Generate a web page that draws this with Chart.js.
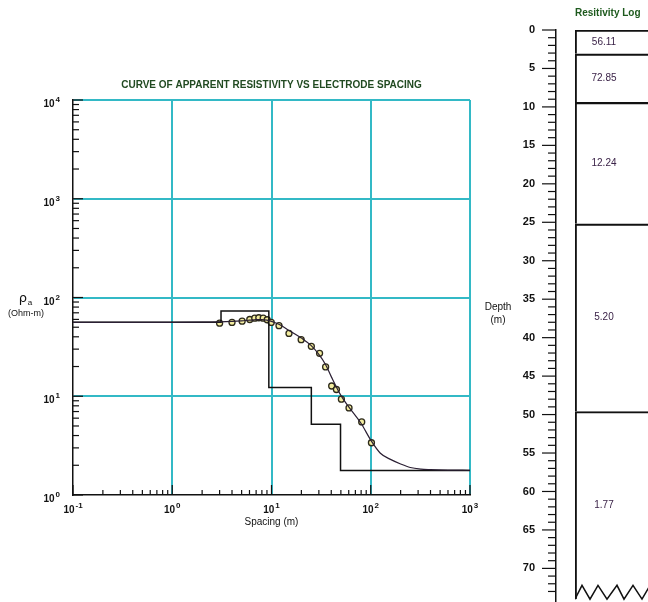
<!DOCTYPE html>
<html>
<head>
<meta charset="utf-8">
<script src="https://cdn.jsdelivr.net/npm/chart.js@4"></script>
<style>
  body { margin: 0; width: 648px; height: 602px; overflow: hidden; background: #fff; position: relative; }
  #curveChart { position: absolute; left: 0; top: 0; }
  #logChart { position: absolute; left: 480px; top: 0; }
</style>
</head>
<body>
<canvas id="curveChart" width="480" height="602"></canvas>
<canvas id="logChart" width="220" height="610"></canvas>
<script>
// axis decades and tick labels (10 raised to these powers)
const xDecades = [0.1, 1, 10, 100, 1000];
const xTickExp = ['-1', '0', '1', '2', '3'];
const yDecades = [1, 10, 100, 1000, 10000];
const yTickExp = ['0', '1', '2', '3', '4'];

// observed apparent resistivity
const obsSpacing = [3.0, 4.0, 5.06, 6.04, 6.78, 7.45, 8.25, 9.05, 9.94, 11.9, 15.0, 19.9, 25.2, 30.5, 35.1, 40.4, 45.1, 50.6, 60.4, 81.1, 101.6];
const obsRho = [55.0, 55.9, 57.6, 59.9, 61.8, 62.4, 61.8, 59.5, 55.9, 51.8, 43.3, 37.4, 32.0, 27.2, 19.8, 12.7, 11.7, 9.33, 7.62, 5.50, 3.38];

// calculated curve
const curveSpacing = [0.1, 1, 2, 3, 4, 5, 6, 7, 8, 9, 10, 12, 15, 20, 25, 30, 35, 40, 50, 60, 80, 100, 125, 160, 200, 250, 320, 400, 600, 1000];
const curveRho = [56.1, 56.1, 56.3, 56.6, 57.2, 58.0, 58.9, 59.6, 59.8, 59.0, 57.3, 53.2, 46.4, 38.8, 32.7, 26.5, 21.0, 15.8, 10.2, 7.8, 5.3, 3.6, 2.65, 2.28, 2.06, 1.9, 1.83, 1.81, 1.79, 1.78];

// layered model
const layerRho = [56.11, 72.85, 12.24, 5.20, 1.77];
const layerBottom = [3.1, 9.4, 25.2, 49.6, 74];
const depthTickLabels = ['0', '5', '10', '15', '20', '25', '30', '35', '40', '45', '50', '55', '60', '65', '70'];

// break symbol at the bottom of the log
const zigzagX = [0, 7, 15, 23, 32, 42, 49, 58, 67, 75, 84, 92, 100, 109, 117, 125];
const zigzagDepth = [74, 72.2, 74, 72.2, 74, 72.2, 74, 72.2, 74, 72.2, 74, 72.2, 74, 72.2, 74, 72.2];

const CYAN = '#33b9c6';
const INK = '#111';
const SANS = '"Liberation Sans", Arial, sans-serif';

function logTicks(decades) {
    const out = [];
    decades.forEach((d, i) => {
        if (i === decades.length - 1) { out.push(d); return; }
        for (let m = 1; m < 10; m++) out.push(+(m * d).toPrecision(6));
    });
    return out;
}
function decadeIndex(decades, v) {
    return decades.findIndex(d => Math.abs(d - v) / d < 1e-6);
}

// short tick marks drawn against the axis line
const axisTicks = {
    id: 'axisTicks',
    afterDraw(chart, args, opts) {
        const ctx = chart.ctx;
        (opts.list || []).forEach(t => {
            const s = chart.scales[t.id];
            ctx.save();
            ctx.strokeStyle = INK;
            ctx.lineWidth = 1.2;
            s.ticks.forEach(tick => {
                if (tick.value < s.min || tick.value > s.max) return;
                const p = s.getPixelForValue(tick.value);
                const len = t.isMajor(tick.value) ? t.major : t.minor;
                ctx.beginPath();
                if (s.isHorizontal()) {
                    ctx.moveTo(p, s.top);
                    ctx.lineTo(p, s.top + t.dir * len);
                } else {
                    ctx.moveTo(s.right, p);
                    ctx.lineTo(s.right + t.dir * len, p);
                }
                ctx.stroke();
            });
            ctx.restore();
        });
    }
};

// "10" with a raised exponent at each decade
const powerLabels = {
    id: 'powerLabels',
    afterDraw(chart, args, opts) {
        const ctx = chart.ctx;
        (opts.list || []).forEach(t => {
            const s = chart.scales[t.id];
            t.decades.forEach((d, i) => {
                const p = s.getPixelForValue(d);
                ctx.save();
                ctx.fillStyle = INK;
                ctx.textBaseline = 'alphabetic';
                ctx.textAlign = 'left';
                ctx.font = 'bold 10px ' + SANS;
                const wb = ctx.measureText('10').width;
                ctx.font = 'bold 8px ' + SANS;
                const we = ctx.measureText(t.exps[i]).width;
                let x0, yb;
                if (s.isHorizontal()) {
                    x0 = p - (wb + we + 1) / 2;
                    yb = s.top + 18;
                } else {
                    x0 = s.right - 13 - (wb + we + 1);
                    yb = p + 7;
                }
                ctx.font = 'bold 10px ' + SANS;
                ctx.fillText('10', x0, yb);
                ctx.font = 'bold 8px ' + SANS;
                ctx.fillText(t.exps[i], x0 + wb + 1, yb - 5);
                ctx.restore();
            });
        });
    }
};

// free text (axis names that are not rotated)
const notes = {
    id: 'notes',
    afterDraw(chart, args, opts) {
        const ctx = chart.ctx;
        (opts.items || []).forEach(n => {
            ctx.save();
            ctx.font = n.font;
            ctx.fillStyle = n.color || INK;
            ctx.textAlign = n.align || 'center';
            ctx.textBaseline = 'middle';
            ctx.fillText(n.text, n.x, n.y);
            ctx.restore();
        });
    }
};

// resistivity values inside each layer
const layerValues = {
    id: 'layerValues',
    afterDatasetsDraw(chart) {
        const ctx = chart.ctx;
        ctx.save();
        ctx.font = '10px ' + SANS;
        ctx.fillStyle = '#3b2348';
        ctx.textAlign = 'center';
        ctx.textBaseline = 'middle';
        layerRho.forEach((r, i) => {
            const el = chart.getDatasetMeta(i).data[0];
            ctx.fillText(r.toFixed(2), chart.chartArea.left + 29, (el.y + el.base) / 2);
        });
        ctx.restore();
    }
};

document.addEventListener('DOMContentLoaded', function() {
    // Curve of apparent resistivity
    const stepPoints = [{ x: xDecades[0], y: layerRho[0] }];
    layerBottom.slice(0, 4).forEach((d, i) => stepPoints.push({ x: d, y: layerRho[i + 1] }));
    stepPoints.push({ x: xDecades[xDecades.length - 1], y: layerRho[4] });

    new Chart(document.getElementById('curveChart'), {
        type: 'line',
        data: {
            datasets: [{
                label: 'Calculated',
                data: curveSpacing.map((x, i) => ({ x: x, y: curveRho[i] })),
                borderColor: '#2a1f33',
                borderWidth: 1.2,
                pointRadius: 0,
                cubicInterpolationMode: 'monotone'
            }, {
                label: 'Model',
                data: stepPoints,
                borderColor: INK,
                borderWidth: 1.5,
                pointRadius: 0,
                stepped: 'before'
            }, {
                label: 'Observed',
                data: obsSpacing.map((x, i) => ({ x: x, y: obsRho[i] })),
                showLine: false,
                pointRadius: 3,
                pointBorderWidth: 1.3,
                pointBorderColor: '#2d2a1a',
                pointBackgroundColor: '#f3eda0'
            }]
        },
        options: {
            animation: false,
            responsive: false,
            layout: { padding: { left: 0, right: 10, top: 0, bottom: 72 } },
            plugins: {
                legend: { display: false },
                tooltip: { enabled: false },
                title: {
                    display: true,
                    fullSize: false,
                    text: 'CURVE OF APPARENT RESISTIVITY VS ELECTRODE SPACING',
                    color: '#214a21',
                    font: { family: SANS, size: 10, weight: 'bold' },
                    padding: { top: 79, bottom: 9 }
                },
                axisTicks: {
                    list: [
                        { id: 'x', dir: -1, major: 10, minor: 5, isMajor: v => decadeIndex(xDecades, v) >= 0 },
                        { id: 'y', dir: 1, major: 10, minor: 6, isMajor: v => decadeIndex(yDecades, v) >= 0 }
                    ]
                },
                powerLabels: {
                    list: [
                        { id: 'x', decades: xDecades, exps: xTickExp },
                        { id: 'y', decades: yDecades, exps: yTickExp }
                    ]
                },
                notes: {
                    items: [
                        { text: 'ρ', x: 23, y: 299, font: '13px "DejaVu Sans", sans-serif' },
                        { text: 'a', x: 30, y: 303, font: '8px ' + SANS },
                        { text: '(Ohm-m)', x: 26, y: 314, font: '9px ' + SANS }
                    ]
                }
            },
            scales: {
                x: {
                    type: 'logarithmic',
                    min: xDecades[0],
                    max: xDecades[xDecades.length - 1],
                    afterBuildTicks: s => { s.ticks = logTicks(xDecades).map(v => ({ value: v })); },
                    afterFit: s => { s.height = 35; s.paddingLeft = 0; s.paddingRight = 0; },
                    ticks: { display: false },
                    grid: {
                        drawTicks: false,
                        lineWidth: 2,
                        color: c => (c.tick && decadeIndex(xDecades, c.tick.value) > 0) ? CYAN : 'rgba(0,0,0,0)'
                    },
                    border: { color: INK, width: 1.5 },
                    title: {
                        display: true,
                        text: 'Spacing (m)',
                        color: INK,
                        font: { family: SANS, size: 10 },
                        padding: { top: 0, bottom: 2 }
                    }
                },
                y: {
                    type: 'logarithmic',
                    min: yDecades[0],
                    max: yDecades[yDecades.length - 1],
                    afterBuildTicks: s => { s.ticks = logTicks(yDecades).map(v => ({ value: v })); },
                    afterFit: s => { s.width = 73; s.paddingTop = 0; s.paddingBottom = 0; },
                    ticks: { display: false },
                    grid: {
                        drawTicks: false,
                        lineWidth: 2,
                        color: c => (c.tick && decadeIndex(yDecades, c.tick.value) > 0) ? CYAN : 'rgba(0,0,0,0)'
                    },
                    border: { color: INK, width: 1.5 }
                }
            }
        },
        plugins: [axisTicks, powerLabels, notes]
    });

    // Resistivity log
    const tops = [0].concat(layerBottom.slice(0, -1));
    const layerSets = layerRho.map((r, i) => ({
        type: 'bar',
        label: String(r),
        data: [layerBottom[i] - tops[i]],
        xAxisID: 'x',
        yAxisID: 'y',
        stack: 'column',
        grouped: false,
        order: 1,
        backgroundColor: 'rgba(255,255,255,0)',
        borderColor: INK,
        borderWidth: { top: 1.5, left: 1.5, right: 1.5, bottom: 0 },
        borderSkipped: false,
        barPercentage: 1,
        categoryPercentage: 1
    }));
    layerSets.push({
        type: 'line',
        label: 'break',
        data: zigzagX.map((x, i) => ({ x: x, y: zigzagDepth[i] })),
        xAxisID: 'x2',
        yAxisID: 'y',
        order: 0,
        borderColor: INK,
        borderWidth: 1.5,
        pointRadius: 0,
        tension: 0
    });

    new Chart(document.getElementById('logChart'), {
        data: { labels: ['log'], datasets: layerSets },
        options: {
            animation: false,
            responsive: false,
            layout: { padding: { left: 0, right: 0, top: 0, bottom: 7 } },
            plugins: {
                legend: { display: false },
                tooltip: { enabled: false },
                title: {
                    display: true,
                    fullSize: false,
                    align: 'start',
                    text: 'Resitivity Log',
                    color: '#1e5a1e',
                    font: { family: SANS, size: 10, weight: 'bold' },
                    padding: { top: 7, bottom: 11 }
                },
                axisTicks: {
                    list: [{ id: 'y', dir: -1, major: 14, minor: 8, isMajor: v => v % 5 === 0 }]
                },
                notes: {
                    items: [
                        { text: 'Depth', x: 18, y: 307, font: '10px ' + SANS },
                        { text: '(m)', x: 18, y: 320, font: '10px ' + SANS }
                    ]
                }
            },
            scales: {
                x: { type: 'category', stacked: true, offset: true, display: false },
                x2: { type: 'linear', display: false, min: 0, max: 125 },
                y: {
                    type: 'linear',
                    position: 'left',
                    weight: 1,
                    reverse: true,
                    stacked: true,
                    min: 0,
                    max: 74.5,
                    afterFit: s => { s.width = 76; s.paddingTop = 0; s.paddingBottom = 0; },
                    ticks: {
                        stepSize: 1,
                        autoSkip: false,
                        padding: 21,
                        color: INK,
                        font: { family: SANS, size: 11, weight: 'bold' },
                        callback: v => (v % 5 === 0 ? depthTickLabels[v / 5] : '')
                    },
                    grid: { display: false, drawTicks: false },
                    border: { color: INK, width: 1.5 }
                },
                ySpace: {
                    type: 'linear',
                    position: 'left',
                    weight: 0,
                    min: 0,
                    max: 1,
                    afterFit: s => { s.width = 19; },
                    ticks: { display: false },
                    grid: { display: false, drawTicks: false },
                    border: { display: false }
                }
            }
        },
        plugins: [axisTicks, notes, layerValues]
    });
});
</script>
</body>
</html>
